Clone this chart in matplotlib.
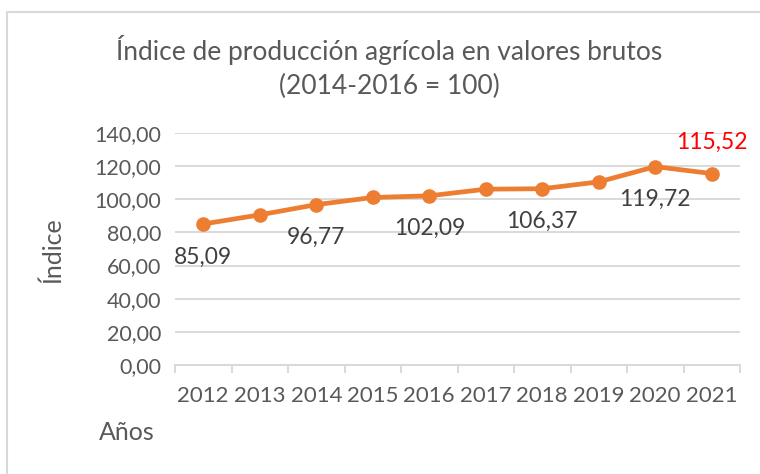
import matplotlib.pyplot as plt
from matplotlib.patches import Rectangle
from matplotlib.ticker import FuncFormatter, MultipleLocator

plt.rcParams['font.family'] = ['Lato', 'DejaVu Sans']

# datos del gráfico
years = ['2012', '2013', '2014', '2015', '2016', '2017', '2018', '2019', '2020', '2021']
index_values = [85.09, 90.6, 96.77, 101.1, 102.09, 106.1, 106.37, 110.5, 119.72, 115.52]
labelled_below = [0, 2, 4, 6, 8]   # etiquetas debajo del punto
labelled_above = [9]               # última etiqueta en rojo

orange = '#ED7D31'
grey_text = '#595959'
dark_text = '#404040'
grid_col = '#D9D9D9'

fig = plt.figure(figsize=(7.6, 4.74), dpi=100)
W, H = 760, 474

# marco del gráfico (recortado a la derecha y abajo)
fig.patches.append(Rectangle((7 / W, -0.05), 1.0, 1 - 12 / H + 0.05,
                             transform=fig.transFigure, fill=False,
                             edgecolor='#D9D9D9', linewidth=1.5))

ax = fig.add_axes([175 / W, 1 - 365 / H, (740 - 175) / W, (365 - 133) / H])

x = list(range(len(years)))
ax.plot(x, index_values, color=orange, linewidth=3.4, marker='o',
        markersize=9.5, solid_capstyle='round', zorder=3)

ax.set_xlim(-0.5, len(years) - 0.5)
ax.set_ylim(0, 140)
ax.yaxis.set_major_locator(MultipleLocator(20))
ax.yaxis.set_major_formatter(FuncFormatter(lambda v, p: f'{v:.2f}'.replace('.', ',')))
ax.grid(axis='y', color=grid_col, linewidth=1.4)
ax.set_axisbelow(True)

for s in ['top', 'right', 'left']:
    ax.spines[s].set_visible(False)
ax.spines['bottom'].set_color(grid_col)
ax.spines['bottom'].set_linewidth(1.4)

ax.set_xticks(x)
ax.set_xticklabels(years)
ax.set_xticks([i - 0.5 for i in range(len(years) + 1)], minor=True)
ax.tick_params(axis='x', which='major', length=0, pad=15, labelsize=16, labelcolor=grey_text)
ax.tick_params(axis='x', which='minor', length=6, width=1.4, color=grid_col)
ax.tick_params(axis='y', length=0, pad=10, labelsize=15.5, labelcolor=grey_text)

for i in labelled_below:
    ax.annotate(f'{index_values[i]:.2f}'.replace('.', ','), (x[i], index_values[i]),
                xytext=(0, -33), textcoords='offset pixels', ha='center', va='center',
                fontsize=16.5, color=dark_text)
for i in labelled_above:
    ax.annotate(f'{index_values[i]:.2f}'.replace('.', ','), (x[i], index_values[i]),
                xytext=(0, 31), textcoords='offset pixels', ha='center', va='center',
                fontsize=16.5, color='#FF0000')

fig.text(389 / W, 1 - 50 / H, 'Índice de producción agrícola en valores brutos',
         ha='center', va='center', fontsize=19, color=grey_text)
fig.text(389 / W, 1 - 86 / H, '(2014-2016 = 100)',
         ha='center', va='center', fontsize=19, color=grey_text)

fig.text(52 / W, 1 - 250 / H, 'Índice', rotation=90, ha='center', va='center',
         fontsize=18, color=grey_text)
fig.text(127 / W, 1 - 433 / H, 'Años', ha='center', va='center',
         fontsize=18, color=grey_text)

fig.savefig('out.png', dpi=100, facecolor='white')
